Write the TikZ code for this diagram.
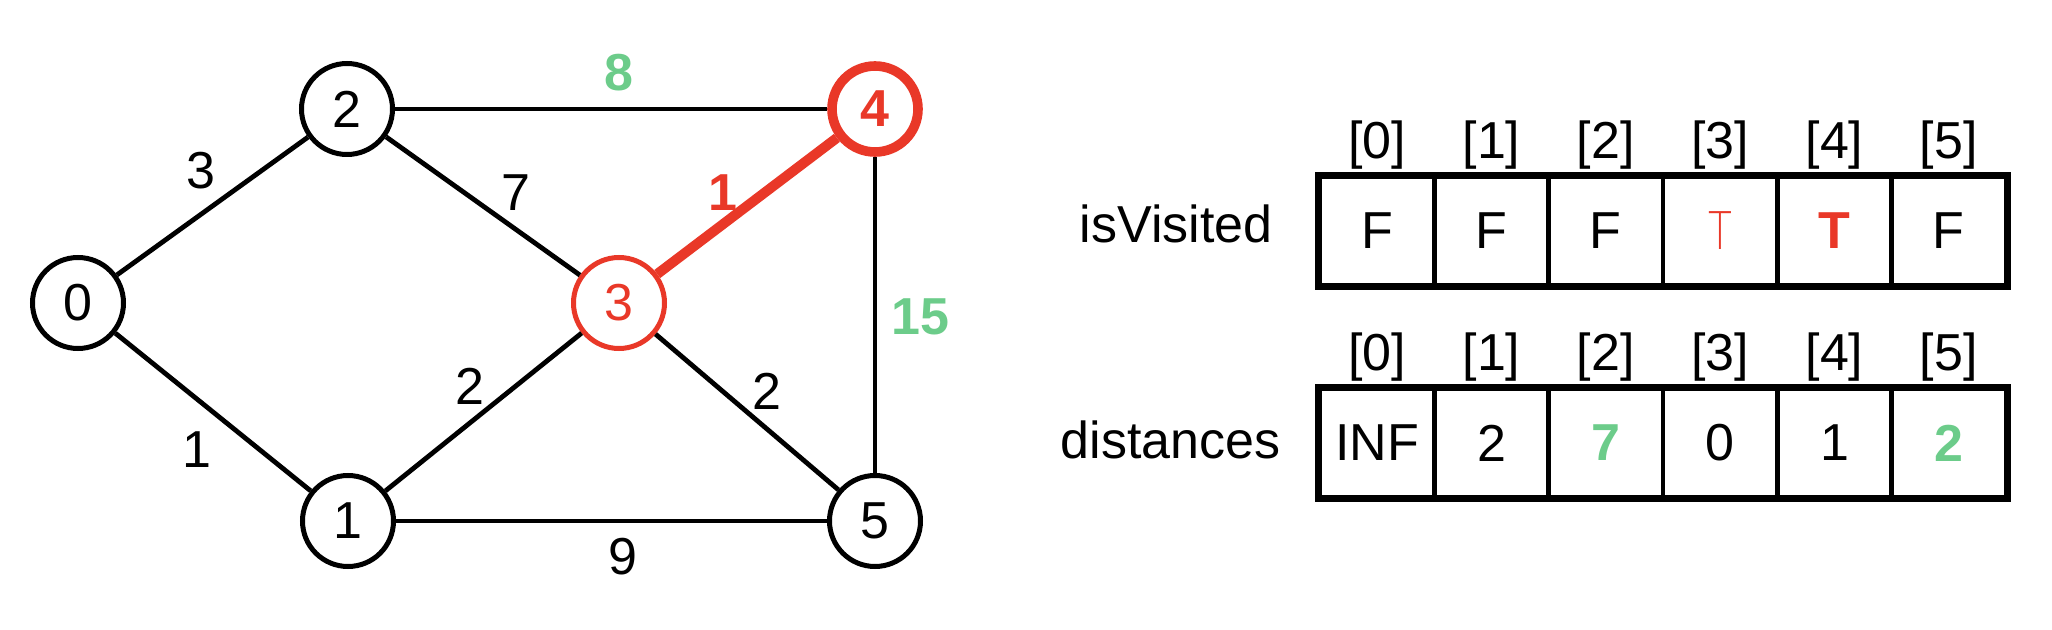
\documentclass[tikz,border=0pt]{standalone}
\usepackage{fontspec}
\setmainfont{Liberation Sans}
\definecolor{myred}{RGB}{233,56,40}
\definecolor{mygreen}{RGB}{108,204,138}
\begin{document}
\begin{tikzpicture}[x=0.5pt,y=-0.5pt,
  vert/.style={circle,draw,line width=2.5pt,minimum size=45.5pt,inner sep=0pt,font=\fontsize{26}{30}\selectfont},
  edge/.style={line width=2.4pt},
  wlab/.style={font=\fontsize{26}{30}\selectfont,inner sep=0pt},
  cell/.style={draw,line width=2.2pt,minimum width=57.15pt,minimum height=54pt,inner sep=0pt,font=\fontsize{26}{30}\selectfont},
  outer/.style={draw,line width=2.8pt},
]
\fill[white] (0,0) rectangle (2052,630);
\useasboundingbox (0,0) rectangle (2052,630);
% vertices
\node[vert] (n0) at (78,303) {0};
\node[vert] (n2) at (347,109) {2};
\node[vert,draw=myred,line width=4.8pt,minimum size=43pt,text=myred,font=\fontsize{26}{30}\selectfont\bfseries] (n4) at (875,109) {4};
\node[vert,draw=myred,text=myred] (n3) at (619,303) {3};
\node[vert] (n1) at (348,521) {1};
\node[vert] (n5) at (875,521) {5};
% edges
\draw[edge] (n0) -- (n2);
\draw[edge] (n0) -- (n1);
\draw[edge] (n2) -- (n4);
\draw[edge] (n2) -- (n3);
\draw[edge,draw=myred,line width=5pt] (n3) -- (n4);
\draw[edge] (n4) -- (n5);
\draw[edge] (n1) -- (n3);
\draw[edge] (n3) -- (n5);
\draw[edge] (n1) -- (n5);
% weights
\node[wlab] (w02) at (201,171) {3};
\node[wlab] (w23) at (516,193) {7};
\node[wlab,text=mygreen,font=\fontsize{26}{30}\selectfont\bfseries] (w24) at (619,73) {8};
\node[wlab,text=myred,font=\fontsize{26}{30}\selectfont\bfseries] (w34) at (723,193) {1};
\node[wlab,text=mygreen,font=\fontsize{26}{30}\selectfont\bfseries] (w45) at (920,317) {15};
\node[wlab] (w13) at (470,386) {2};
\node[wlab] (w35) at (767,391) {2};
\node[wlab] (w01) at (197,450) {1};
\node[wlab] (w15) at (623,557) {9};
% isVisited table
\node[wlab,anchor=base east] (lv) at (1273,243) {isVisited};
\node[cell] (v0) at (1377.2,231) {F};
\node[cell] (v1) at (1491.5,231) {F};
\node[cell] (v2) at (1605.8,231) {F};
\node[cell,text=myred] (v3) at (1720.2,231) {\scalebox{0.75}[1]{\fontspec{DejaVu Sans ExtraLight}T}};
\node[cell,text=myred,font=\fontsize{26}{30}\selectfont\bfseries] (v4) at (1834.5,231) {T};
\node[cell] (v5) at (1948.8,231) {F};
\draw[outer] (v0.north west) rectangle (v5.south east);
\foreach \i/\x in {0/1377.2,1/1491.5,2/1605.8,3/1720.2,4/1834.5,5/1948.8}{
  \node[wlab] (iv\i) at (\x,145) {[\i]};
  \node[wlab] (id\i) at (\x,357) {[\i]};
}
% distances table
\node[wlab,anchor=base east] (ld) at (1281,459) {distances};
\node[cell] (d0) at (1377.2,443) {INF};
\node[cell] (d1) at (1491.5,443) {2};
\node[cell,text=mygreen,font=\fontsize{26}{30}\selectfont\bfseries] (d2) at (1605.8,443) {7};
\node[cell] (d3) at (1720.2,443) {0};
\node[cell] (d4) at (1834.5,443) {1};
\node[cell,text=mygreen,font=\fontsize{26}{30}\selectfont\bfseries] (d5) at (1948.8,443) {2};
\draw[outer] (d0.north west) rectangle (d5.south east);
\end{tikzpicture}
\end{document}
